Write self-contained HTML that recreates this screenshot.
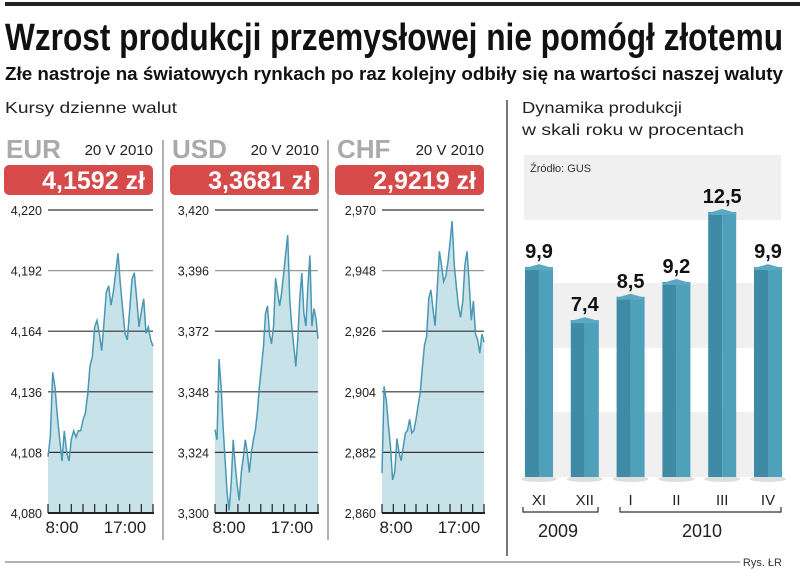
<!DOCTYPE html>
<html><head><meta charset="utf-8"><style>
body{margin:0;background:#fff}
svg{display:block;font-family:"Liberation Sans",sans-serif}
</style></head><body>
<svg id="s" width="805" height="570" viewBox="0 0 805 570">
<rect x="5" y="2" width="795" height="4" fill="#222"/>
<text x="5" y="50" font-size="38" font-weight="bold" textLength="778" lengthAdjust="spacingAndGlyphs" fill="#111">Wzrost produkcji przemysłowej nie pomógł złotemu</text>
<text x="5" y="80" font-size="18" font-weight="bold" textLength="778" lengthAdjust="spacingAndGlyphs" fill="#111">Złe nastroje na światowych rynkach po raz kolejny odbiły się na wartości naszej waluty</text>
<text x="5" y="113" font-size="16" textLength="172" lengthAdjust="spacingAndGlyphs" fill="#222">Kursy dzienne walut</text>
<text x="522" y="113" font-size="16" textLength="160" lengthAdjust="spacingAndGlyphs" fill="#222">Dynamika produkcji</text>
<text x="522" y="135" font-size="16" textLength="222" lengthAdjust="spacingAndGlyphs" fill="#222">w skali roku w procentach</text>
<line x1="507" y1="100" x2="507" y2="556" stroke="#777" stroke-width="2"/>
<line x1="163" y1="140" x2="163" y2="540" stroke="#999" stroke-width="1.5"/>
<line x1="328" y1="140" x2="328" y2="540" stroke="#999" stroke-width="1.5"/>
<line x1="5" y1="562" x2="740" y2="562" stroke="#666" stroke-width="1"/>
<text x="782" y="566" font-size="11" text-anchor="end" fill="#333">Rys. ŁR</text>
<g id="fx"></g>
<g id="bars"></g>
</svg>
<script>
const eurVals=[4.106,4.115,4.145,4.138,4.125,4.114,4.104,4.118,4.108,4.104,4.114,4.118,4.115,4.118,4.118,4.123,4.126,4.135,4.148,4.152,4.166,4.169,4.163,4.155,4.168,4.182,4.185,4.176,4.182,4.191,4.200,4.186,4.174,4.163,4.160,4.174,4.188,4.191,4.179,4.166,4.173,4.179,4.163,4.166,4.160,4.157];
const usdVals=[3.333,3.329,3.361,3.350,3.334,3.321,3.308,3.301,3.312,3.329,3.319,3.311,3.305,3.316,3.322,3.329,3.324,3.316,3.324,3.329,3.333,3.340,3.350,3.358,3.366,3.379,3.382,3.371,3.367,3.374,3.393,3.387,3.382,3.387,3.395,3.403,3.410,3.385,3.374,3.366,3.358,3.369,3.385,3.395,3.379,3.374,3.390,3.402,3.374,3.381,3.377,3.369];
const chfVals=[2.8745,2.906,2.901,2.892,2.884,2.872,2.875,2.887,2.882,2.879,2.884,2.889,2.890,2.894,2.889,2.890,2.894,2.899,2.904,2.913,2.921,2.924,2.938,2.941,2.934,2.928,2.942,2.955,2.950,2.944,2.946,2.951,2.958,2.966,2.950,2.942,2.935,2.931,2.937,2.950,2.955,2.944,2.930,2.937,2.925,2.923,2.918,2.925,2.922];
const eurTicks=["4,220","4,192","4,164","4,136","4,108","4,080"];
const usdTicks=["3,420","3,396","3,372","3,348","3,324","3,300"];
const chfTicks=["2,970","2,948","2,926","2,904","2,882","2,860"];
const fxNames=["EUR","USD","CHF"];
const fxRates=["4,1592 zł","3,3681 zł","2,9219 zł"];
const fxMin=[4.080,3.300,2.860];
const fxMax=[4.220,3.420,2.970];
const barCats=["XI","XII","I","II","III","IV"];
const barVals=[9.9,7.4,8.5,9.2,12.5,9.9];
const barLabels=["9,9","7,4","8,5","9,2","12,5","9,9"];

const NS="http://www.w3.org/2000/svg";
function mk(tag,attrs,parent,txt){const e=document.createElementNS(NS,tag);for(const k in attrs)e.setAttribute(k,attrs[k]);if(txt!==undefined)e.textContent=txt;parent.appendChild(e);return e;}
const fx=document.getElementById('fx');
const panels=[{x0:48,x1:153,bx:4,vals:eurVals,ticks:eurTicks},{x0:215,x1:318,bx:170,vals:usdVals,ticks:usdTicks},{x0:382,x1:484,bx:335,vals:chfVals,ticks:chfTicks}];
const yTop=210,yBot=513;
panels.forEach((p,i)=>{
  const g=mk('g',{},fx);
  
  
  const t=mk('text',{x:p.bx+2,y:158,'font-size':26,'font-weight':'bold',fill:'#aaa'},g,fxNames[i]);
  
  
  const d=mk('text',{x:p.bx+149,y:155,'font-size':15,'text-anchor':'end',fill:'#222'},g,'20 V 2010');
  
  
  const r=mk('rect',{x:p.bx,y:165,width:149,height:30,rx:5,fill:'#d64a4a'},g);
  
  
  const rt=mk('text',{x:p.bx+141,y:189,'font-size':25,'font-weight':'bold','text-anchor':'end',fill:'#fff'},g,fxRates[i]);
  
  
  const yS=v=>yBot-(v-fxMin[i])/(fxMax[i]-fxMin[i])*(yBot-yTop);
  const xS=k=>p.x0+k/(p.vals.length-1)*(p.x1-p.x0);
  let pts=p.vals.map((v,k)=>xS(k).toFixed(1)+','+yS(v).toFixed(1));
  const area=mk('polygon',{points:p.x0+','+yBot+' '+pts.join(' ')+' '+p.x1+','+yBot,fill:'#c8e2ea'},g);
  
  
  p.ticks.forEach((tk,k)=>{
    const y=yTop+k*(yBot-yTop)/5;
    if(k<5){const gl=mk('line',{x1:p.x0,x2:p.x1,y1:y,y2:y,stroke:k==1?'#999':'#333','stroke-width':1.2},g);
    
    }
    const tl=mk('text',{x:p.x0-6,y:y+5,'font-size':12.5,'text-anchor':'end',fill:'#222'},g,tk);
    
    
  });
  const ln=mk('polyline',{points:pts.join(' '),fill:'none',stroke:'#4a97b3','stroke-width':1.5},g);
  
  
  const ax=mk('line',{x1:p.x0,x2:p.x1+1,y1:yBot,y2:yBot,stroke:'#222','stroke-width':2},g);
  
  
  for(let k=0;k<10;k++){const x=p.x0+k*(p.x1-p.x0)/9;
    const tm=mk('line',{x1:x,x2:x,y1:yBot,y2:yBot-9,stroke:'#222','stroke-width':1.2},g);
    
    }
  const l1=mk('text',{x:p.x0+14,y:533,'font-size':17,'text-anchor':'middle',fill:'#222'},g,'8:00');
  
  
  const l2=mk('text',{x:p.x0+77,y:533,'font-size':17,'text-anchor':'middle',fill:'#222'},g,'17:00');
  
  
});
const bg=document.getElementById('bars');
const base=477,scale=21.2,bx0=539,step=45.8,bw=28;
[[155,220],[283,348],[412,477]].forEach(b=>{const r=mk('rect',{x:524,y:b[0],width:257,height:b[1]-b[0],fill:'#f0f0f0'},bg);

});
const src=mk('text',{x:530,y:172,'font-size':11,fill:'#333'},bg,'Źródło: GUS');


barVals.forEach((v,i)=>{
  const cx=bx0+i*step,top=base-v*scale;
  const g=mk('g',{},bg);
  
  
  mk('ellipse',{cx:cx,cy:base+2,rx:18,ry:3,fill:'#ddd'},g);
  mk('rect',{x:cx-bw/2,y:top,width:bw/2,height:base-top,fill:'#3f8aa5'},g);
  mk('rect',{x:cx,y:top,width:bw/2,height:base-top,fill:'#4ea0bb'},g);
  mk('polygon',{points:(cx-bw/2)+','+(top+1)+' '+cx+','+(top-3)+' '+(cx+bw/2)+','+(top+1)+' '+(cx+bw/2)+','+(top+3)+' '+(cx-bw/2)+','+(top+3),fill:'#5aa8c1'},g);
  const vl=mk('text',{x:cx,y:top-9,'font-size':20,'font-weight':'bold','text-anchor':'middle',fill:'#111'},bg,barLabels[i]);
  
  
  const cl=mk('text',{x:cx,y:505,'font-size':15,'text-anchor':'middle',fill:'#222'},bg,barCats[i]);
  
  
});
const br1=mk('path',{d:'M523,507 V512 H598 V507',fill:'none',stroke:'#333','stroke-width':1.2},bg);


const br2=mk('path',{d:'M620,507 V512 H781 V507',fill:'none',stroke:'#333','stroke-width':1.2},bg);


const y1=mk('text',{x:558,y:537,'font-size':18,'text-anchor':'middle',fill:'#222'},bg,'2009');


const y2=mk('text',{x:702,y:537,'font-size':18,'text-anchor':'middle',fill:'#222'},bg,'2010');


</script>
</body></html>
